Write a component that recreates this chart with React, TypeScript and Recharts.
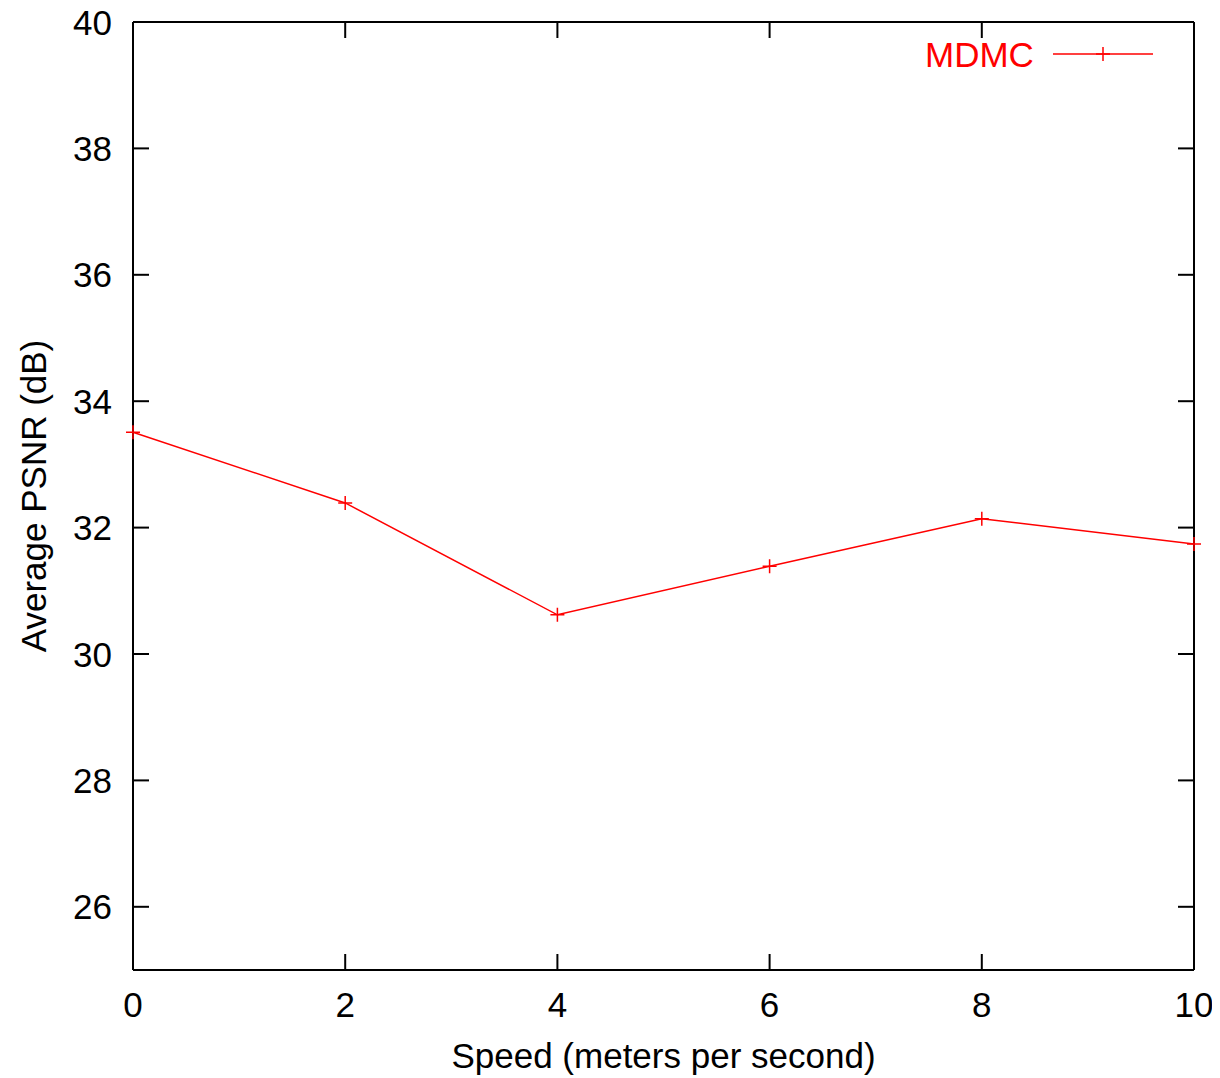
import { LineChart, Line, XAxis, YAxis, Legend } from 'recharts'

const speeds = [0, 2, 4, 6, 8, 10]
const psnr = [33.51, 32.39, 30.62, 31.39, 32.14, 31.74]
const xTicks = [0, 2, 4, 6, 8, 10]
const yTicks = [26, 28, 30, 32, 34, 36, 38, 40]

const data = speeds.map((s, i) => ({ speed: s, psnr: psnr[i] }))

const RED = '#ff0000'
const FONT = '"Liberation Sans", Arial, Helvetica, sans-serif'
const FS = 35
const TICK = 16

function Plus({ cx, cy }: any) {
  if (cx == null || cy == null) return null
  return (
    <path
      d={`M${cx - 7},${cy}H${cx + 7}M${cx},${cy - 7}V${cy + 7}`}
      stroke={RED}
      strokeWidth={1.5}
      fill="none"
    />
  )
}

function BottomTick({ x, y, payload }: any) {
  return (
    <g>
      <line x1={x} y1={y} x2={x} y2={y - TICK} stroke="#000" strokeWidth={2} />
      <text x={x} y={y + 47} textAnchor="middle" fontSize={FS} fontFamily={FONT} fill="#000">
        {payload.value}
      </text>
    </g>
  )
}

function TopTick({ x, y }: any) {
  return <line x1={x} y1={y} x2={x} y2={y + TICK} stroke="#000" strokeWidth={2} />
}

function LeftTick({ x, y, payload }: any) {
  return (
    <g>
      <line x1={x} y1={y} x2={x + TICK} y2={y} stroke="#000" strokeWidth={2} />
      <text x={x - 21} y={y} dy="0.36em" textAnchor="end" fontSize={FS} fontFamily={FONT} fill="#000">
        {payload.value}
      </text>
    </g>
  )
}

function RightTick({ x, y }: any) {
  return <line x1={x} y1={y} x2={x - TICK} y2={y} stroke="#000" strokeWidth={2} />
}

function LegendBox() {
  return (
    <svg width={240} height={45}>
      <text x={0} y={37} fontSize={FS} fontFamily={FONT} fill={RED}>
        MDMC
      </text>
      <line x1={128} y1={24} x2={228} y2={24} stroke={RED} strokeWidth={1.5} />
      <path d="M171,24H185M178,17V31" stroke={RED} strokeWidth={1.5} />
    </svg>
  )
}

export default function App() {
  return (
    <div style={{ marginTop: -8, marginLeft: -8, width: 1220, height: 1078 }}>
      <LineChart
        width={1220}
        height={1078}
        data={data}
        margin={{ top: 21, right: 25, bottom: 0, left: 0 }}
      >
        <XAxis
          dataKey="speed"
          type="number"
          domain={[0, 10]}
          ticks={xTicks}
          height={108}
          tickSize={0}
          tickMargin={0}
          tickLine={false}
          axisLine={{ stroke: '#000', strokeWidth: 2 }}
          tick={<BottomTick />}
          label={({ viewBox }: any) => (
            <text
              x={viewBox.x + viewBox.width / 2}
              y={1068}
              textAnchor="middle"
              fontSize={FS}
              fontFamily={FONT}
              fill="#000"
            >
              Speed (meters per second)
            </text>
          )}
        />
        <XAxis
          xAxisId="top"
          dataKey="speed"
          orientation="top"
          type="number"
          domain={[0, 10]}
          ticks={xTicks}
          height={1}
          tickSize={0}
          tickMargin={0}
          tickLine={false}
          axisLine={{ stroke: '#000', strokeWidth: 2 }}
          tick={<TopTick />}
        />
        <YAxis
          type="number"
          domain={[25, 40]}
          ticks={yTicks}
          width={133}
          tickSize={0}
          tickMargin={0}
          tickLine={false}
          axisLine={{ stroke: '#000', strokeWidth: 2 }}
          tick={<LeftTick />}
          label={({ viewBox }: any) => {
            const cx = 33
            const cy = viewBox.y + viewBox.height / 2
            return (
              <text
                x={cx}
                y={cy}
                transform={`rotate(-90 ${cx} ${cy})`}
                textAnchor="middle"
                dy="0.36em"
                fontSize={FS}
                fontFamily={FONT}
                fill="#000"
              >
                Average PSNR (dB)
              </text>
            )
          }}
        />
        <YAxis
          yAxisId="right"
          orientation="right"
          type="number"
          domain={[25, 40]}
          ticks={yTicks}
          width={1}
          tickSize={0}
          tickMargin={0}
          tickLine={false}
          axisLine={{ stroke: '#000', strokeWidth: 2 }}
          tick={<RightTick />}
        />
        <Legend
          layout="horizontal"
          verticalAlign="middle"
          align="center"
          content={() => <LegendBox />}
          wrapperStyle={{ position: 'absolute', left: 925, top: 30, width: 240, height: 45 }}
        />
        {/* invisible copy so the mirror axes on top/right get drawn */}
        <Line
          xAxisId="top"
          yAxisId="right"
          type="linear"
          dataKey="psnr"
          stroke="none"
          dot={false}
          activeDot={false}
          legendType="none"
          isAnimationActive={false}
        />
        <Line
          type="linear"
          dataKey="psnr"
          stroke={RED}
          strokeWidth={1.5}
          dot={<Plus />}
          activeDot={false}
          isAnimationActive={false}
        />
      </LineChart>
    </div>
  )
}
